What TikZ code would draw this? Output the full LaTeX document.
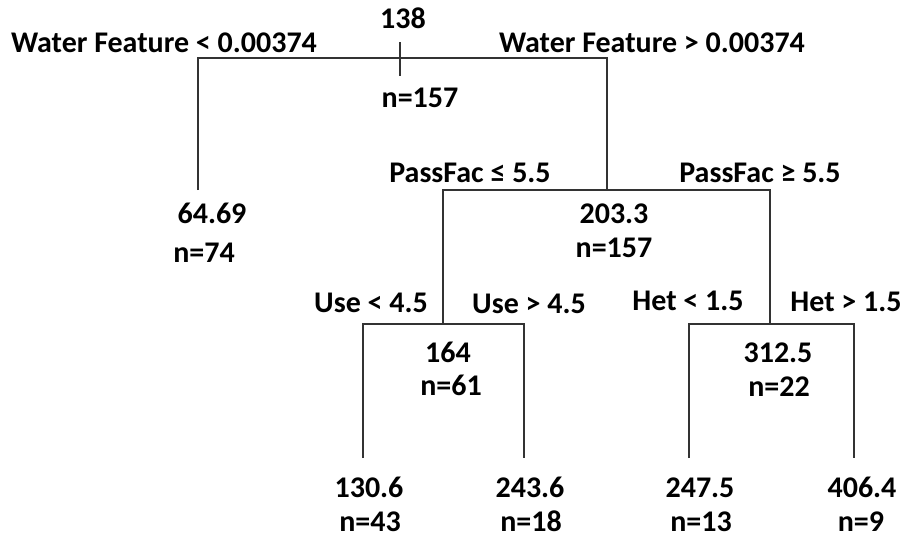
\documentclass[tikz,border=0pt]{standalone}
\usepackage{fontspec}
\setmainfont{Carlito}
\usepackage{tikz}

\tikzset{
    lbl/.style={anchor=base, inner sep=0pt, font=\fontsize{15}{18}\selectfont\bfseries},
    branch/.style={line width=0.8pt, black!80}
}

\begin{document}
\begin{tikzpicture}[x=0.5pt, y=-0.5pt]
        \useasboundingbox (0,0) rectangle (906,536);

        % Split points
        \coordinate (rootL) at (198,58);
        \coordinate (rootR) at (607,58);
        \coordinate (tickT) at (400,42);
        \coordinate (tickB) at (400,76);
        \coordinate (pass) at (607,190);
        \coordinate (passL) at (443,190);
        \coordinate (passR) at (770,190);
        \coordinate (use) at (443,324);
        \coordinate (useL) at (363,324);
        \coordinate (useR) at (524,324);
        \coordinate (het) at (770,324);
        \coordinate (hetL) at (689,324);
        \coordinate (hetR) at (854,324);

        % Leaf ends
        \coordinate (endW) at (198,190);
        \coordinate (endUL) at (363,458);
        \coordinate (endUR) at (524,458);
        \coordinate (endHL) at (689,458);
        \coordinate (endHR) at (854,458);

        % Branches
        \draw[branch] (endW) -- (rootL) -- (rootR) -- (pass);
        \draw[branch] (tickT) -- (tickB);
        \draw[branch] (use) -- (passL) -- (passR) -- (het);
        \draw[branch] (endUL) -- (useL) -- (useR) -- (endUR);
        \draw[branch] (endHL) -- (hetL) -- (hetR) -- (endHR);

        % Root
        \node[lbl] (rootVal) at (403,28) {138};
        \node[lbl] (rootN) at (420,107) {n=157};
        \node[lbl] (wfLess) at (164,52) {Water Feature < 0.00374};
        \node[lbl] (wfMore) at (652,52) {Water Feature > 0.00374};

        % Water feature leaf
        \node[lbl] (wVal) at (212,223) {64.69};
        \node[lbl] (wN) at (204,262) {n=74};

        % PassFac split
        \node[lbl] (pfLess) at (470,182) {PassFac ≤ 5.5};
        \node[lbl] (pfMore) at (760,182) {PassFac ≥ 5.5};
        \node[lbl] (passVal) at (614,223) {203.3};
        \node[lbl] (passN) at (614,257) {n=157};

        % Use split
        \node[lbl] (useLess) at (371,312) {Use < 4.5};
        \node[lbl] (useMore) at (529,313) {Use > 4.5};
        \node[lbl] (useVal) at (448,362) {164};
        \node[lbl] (useN) at (451,395) {n=61};

        % Het split
        \node[lbl] (hetLess) at (688,310) {Het < 1.5};
        \node[lbl] (hetMore) at (846,311) {Het > 1.5};
        \node[lbl] (hetVal) at (778,362) {312.5};
        \node[lbl] (hetN) at (779,396) {n=22};

        % Leaves
        \node[lbl] (ulVal) at (369,497) {130.6};
        \node[lbl] (ulN) at (370,531) {n=43};
        \node[lbl] (urVal) at (530,497) {243.6};
        \node[lbl] (urN) at (531,531) {n=18};
        \node[lbl] (hlVal) at (700,497) {247.5};
        \node[lbl] (hlN) at (701,531) {n=13};
        \node[lbl] (hrVal) at (862,497) {406.4};
        \node[lbl] (hrN) at (861,531) {n=9};
    \end{tikzpicture}
\end{document}
